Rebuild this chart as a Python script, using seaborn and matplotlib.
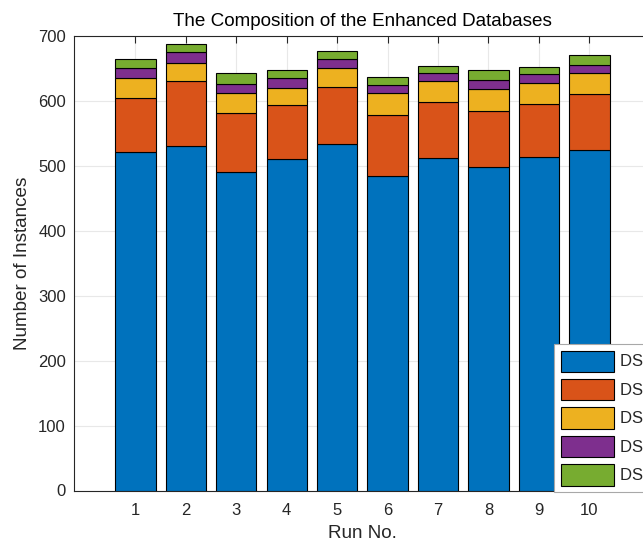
import numpy as np
import pandas as pd
import matplotlib
matplotlib.use("Agg")
import matplotlib.pyplot as plt
import seaborn as sns

runs = [1, 2, 3, 4, 5, 6, 7, 8, 9, 10]
ds1 = [522, 531, 490, 511, 533, 484, 512, 498, 514, 524]
ds2 = [82, 99, 91, 82, 89, 94, 87, 86, 82, 87]
ds3 = [32, 29, 31, 27, 28, 34, 32, 35, 31, 32]
ds4 = [14, 16, 14, 15, 15, 13, 12, 13, 14, 12]
ds5 = [15, 12, 17, 13, 12, 12, 11, 16, 12, 15]
series_names = ["DS$_1$", "DS$_2$", "DS$_3$", "DS$_4$", "DS$_5$"]
colors = ["#0072BD", "#D95319", "#EDB120", "#7E2F8E", "#77AC30"]
yticks = [0, 100, 200, 300, 400, 500, 600, 700]

sns.set_style("white")
plt.rcParams["font.family"] = ["Liberation Sans", "DejaVu Sans"]
plt.rcParams["mathtext.fontset"] = "custom"
plt.rcParams["mathtext.rm"] = "Liberation Sans"
plt.rcParams["mathtext.it"] = "Liberation Sans"

fig = plt.figure(figsize=(6.43, 5.41), dpi=100)
W, H = 643, 541
left_px, bottom_px, top_px = 74.3, 490.5, 36.0
unit_px = 50.45
xmin, xmax = -0.21, 11.2
width_px = (xmax - xmin) * unit_px
ax = fig.add_axes([left_px / W, 1 - bottom_px / H, width_px / W, (bottom_px - top_px) / H])

df = pd.DataFrame({"run": runs, "DS1": ds1, "DS2": ds2, "DS3": ds3, "DS4": ds4, "DS5": ds5})
cols = ["DS1", "DS2", "DS3", "DS4", "DS5"]
bottom = np.zeros(len(runs))
for col, name, c in zip(cols, series_names, colors):
    sns.barplot(data=df, x="run", y=col, bottom=bottom, color=c, saturation=1,
                edgecolor="black", linewidth=0.8, native_scale=True, width=0.8,
                label=name, ax=ax, zorder=3)
    bottom = bottom + df[col].values

ax.set_xlim(xmin, xmax)
ax.set_ylim(0, 700)
ax.set_xticks(runs)
ax.set_xticklabels([str(r) for r in runs])
ax.set_yticks(yticks)
ax.grid(True, color="#e8e8e8", linewidth=0.8, zorder=0)
ax.set_axisbelow(True)

for s in ["left", "bottom", "top", "right"]:
    ax.spines[s].set_color("#262626")
    ax.spines[s].set_linewidth(0.8)
ax.tick_params(axis="both", direction="in", length=5, width=0.8, colors="#262626",
               labelsize=12, top=True, right=True, pad=6)
ax.tick_params(axis="x", pad=9)

ax.set_title("The Composition of the Enhanced Databases", fontsize=13.6, color="black", pad=7)
ax.set_xlabel("Run No.", fontsize=13.6, color="#262626", labelpad=5)
ax.set_ylabel("Number of Instances", fontsize=13.6, color="#262626", labelpad=5)

leg = ax.legend(loc="upper left", bbox_to_anchor=(554.3 / W, 1 - 344.3 / H),
                bbox_transform=fig.transFigure, fontsize=12, frameon=True,
                fancybox=False, framealpha=1, edgecolor="#a8a8a8",
                handlelength=3.2, handleheight=1.6, labelspacing=0.42,
                handletextpad=0.3, borderpad=0.38, borderaxespad=0)
leg.get_frame().set_linewidth(0.8)
leg.set_zorder(10)

fig.savefig("out.png", dpi=100)
